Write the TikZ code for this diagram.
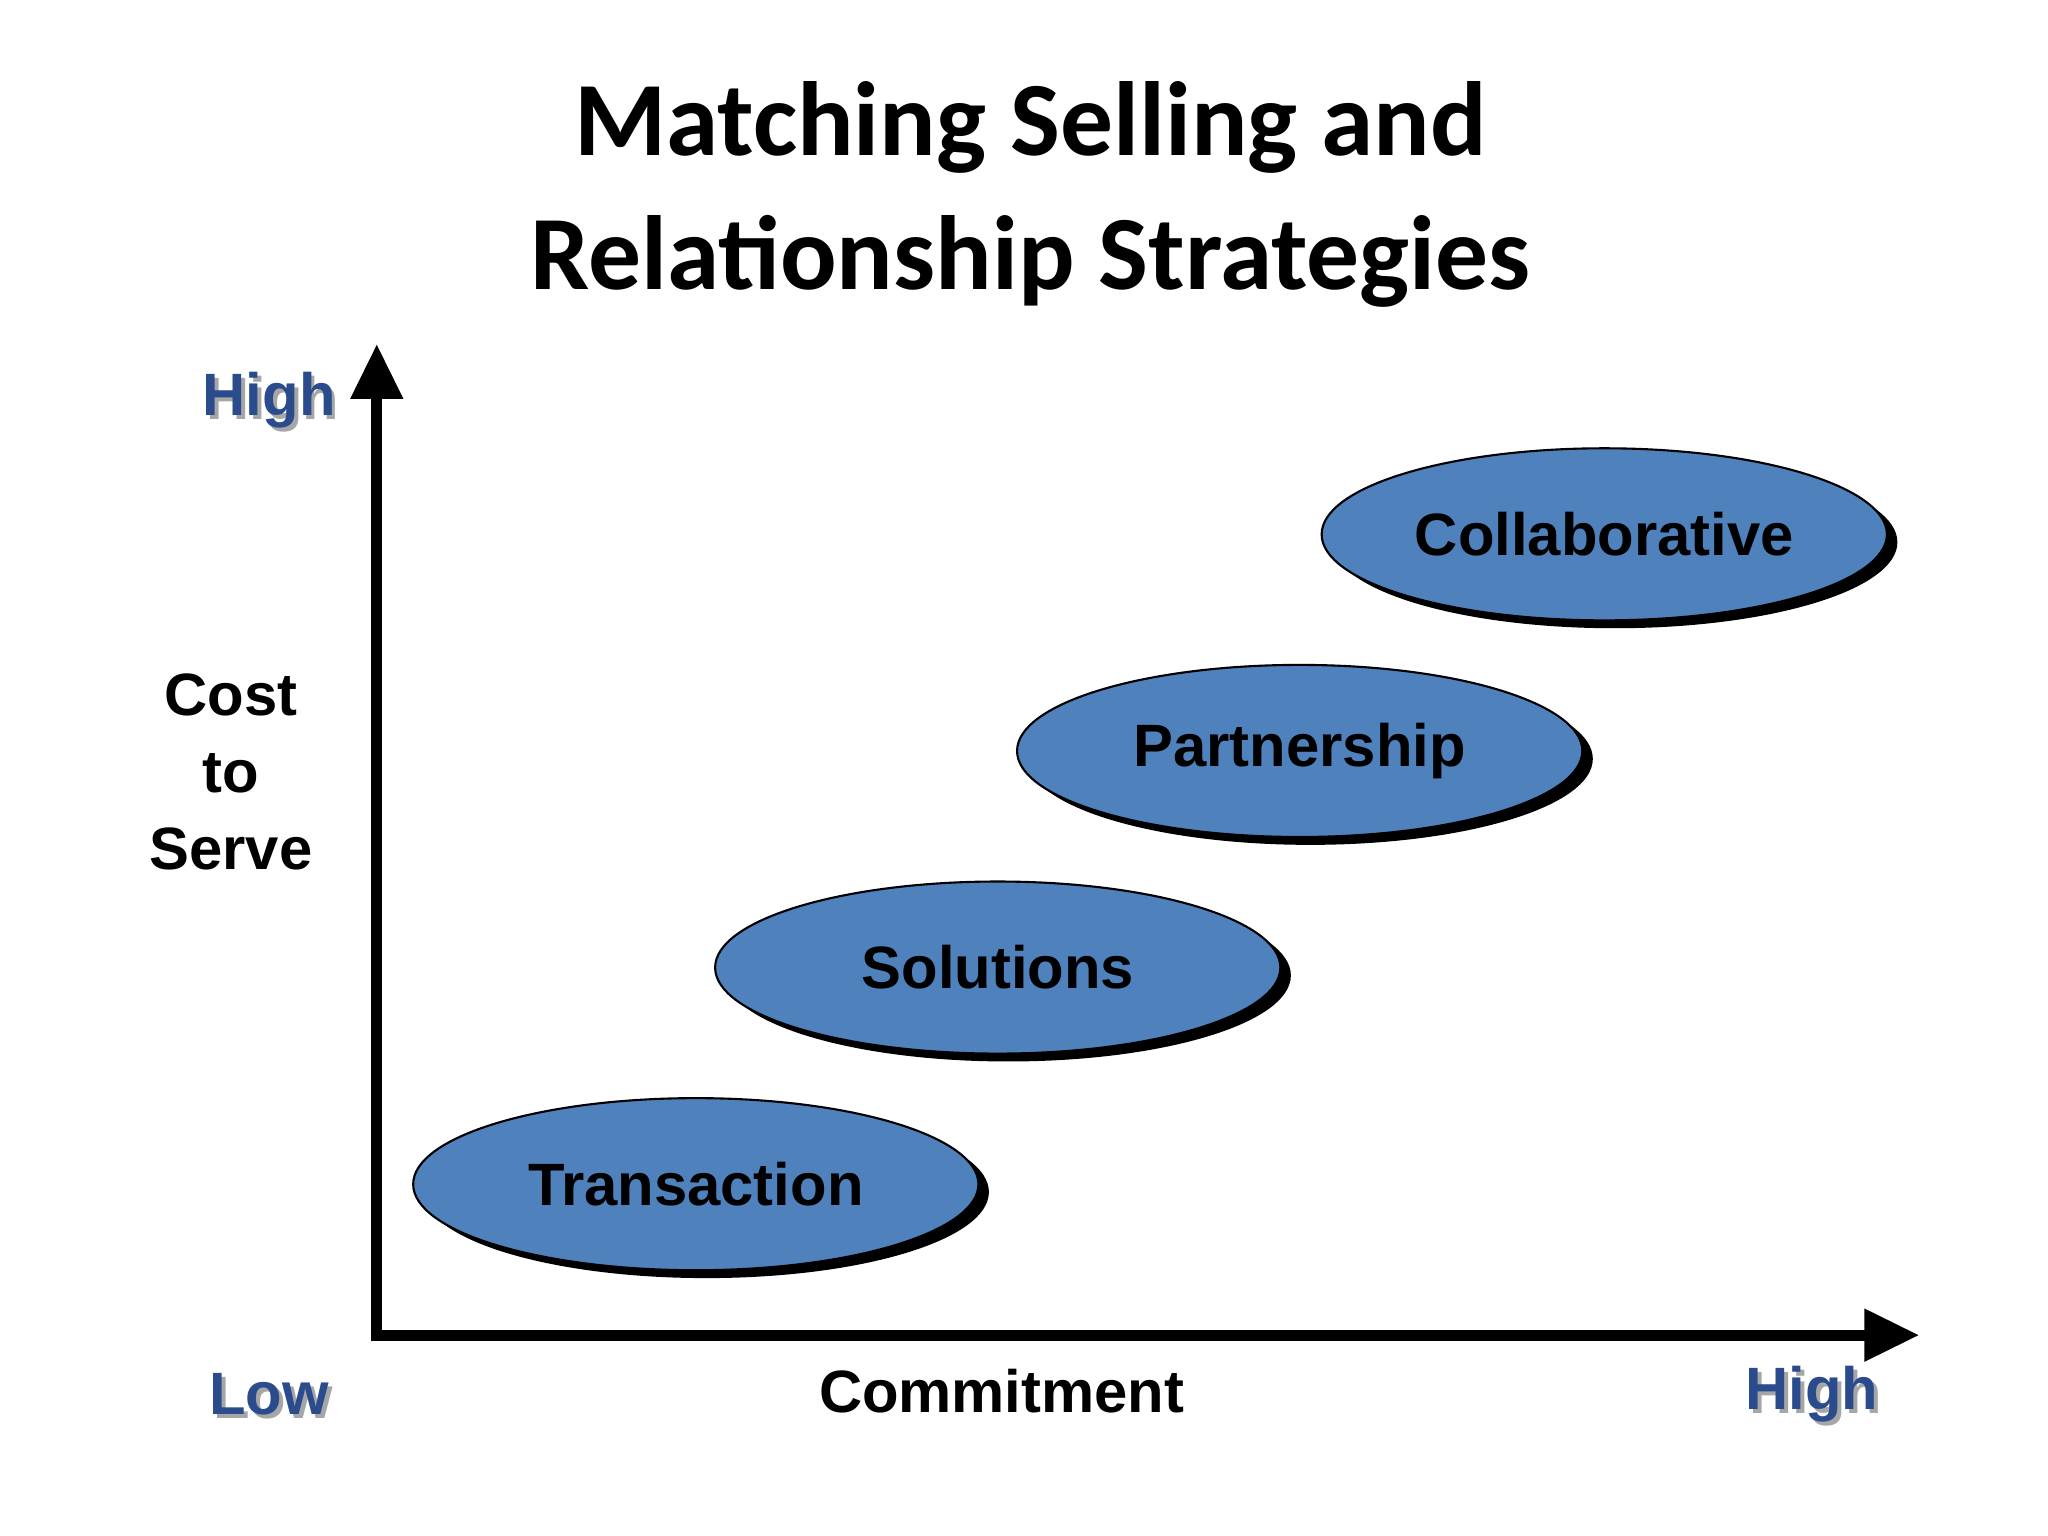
\documentclass[tikz,border=0pt]{standalone}
\usepackage{fontspec}
\setmainfont{Liberation Sans}
\newfontfamily\titlefont{Carlito}
\usetikzlibrary{shapes.geometric,arrows.meta}
\definecolor{ellblue}{HTML}{4F81BD}
\definecolor{axblue}{HTML}{2B4C8C}
\tikzset{
  strat/.style={ellipse,fill=ellblue,draw=black,line width=0.6pt,minimum width=5.65cm,minimum height=1.72cm,font=\fontsize{17}{20}\selectfont\bfseries,inner sep=0pt},
  shad/.style={ellipse,fill=black,minimum width=5.65cm,minimum height=1.72cm,inner sep=0pt},
  axis/.style={line width=3.2pt,-{Triangle[length=0.55cm,width=0.5cm]}},
  lbl/.style={font=\fontsize{17}{20}\selectfont\bfseries,align=center},
  hl/.style={font=\fontsize{17}{20}\selectfont\bfseries,text=axblue},
  hlsh/.style={font=\fontsize{17}{20}\selectfont\bfseries,text=black!35},
}
\begin{document}
\begin{tikzpicture}[x=0.013128cm,y=-0.013128cm]
\useasboundingbox (0,0) rectangle (1560,1170);
\node[font=\titlefont\fontsize{30}{36}\selectfont\bfseries,align=center] (title) at (785,148) {Matching Selling and\\[2pt]Relationship Strategies};
\coordinate (o) at (287,1017);
\coordinate (ytip) at (287,262);
\coordinate (xtip) at (1462,1017);
\draw[axis] ([yshift=-1.6pt]o) -- (ytip);
\draw[axis] ([xshift=-1.6pt]o) -- (xtip);
\foreach \n/\t/\x/\y in {tr/Transaction/530/902, so/Solutions/760/737, pa/Partnership/990/572, co/Collaborative/1222/407}{
  \node[shad] (\n s) at (\x+8,\y+6) {};
  \node[strat] (\n) at (\x,\y) {\t};
}
\node[lbl] (cost) at (176,588) {Cost\\[2pt]to\\[2pt]Serve};
\node[lbl] (comm) at (763,1060) {Commitment};
\foreach \n/\t/\x/\y in {hy/High/205/305, lo/Low/205/1062, hx/High/1380/1062}{
  \node[hlsh] (\n s) at (\x+3,\y+3) {\t};
  \node[hl] (\n) at (\x,\y) {\t};
}
\end{tikzpicture}
\end{document}
